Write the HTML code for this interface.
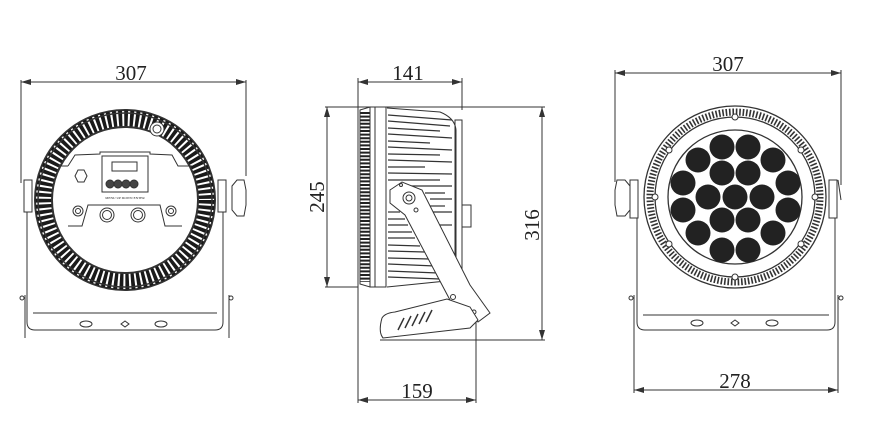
<!DOCTYPE html>
<html><head><meta charset="utf-8"><style>
html,body{margin:0;padding:0;background:#fff;}
svg{display:block}
text{font-family:"Liberation Serif",serif;fill:#222}
</style></head><body>
<svg width="881" height="442" viewBox="0 0 881 442" xmlns="http://www.w3.org/2000/svg">
<defs>
<marker id="a" viewBox="0 0 10 6" refX="10" refY="3" markerWidth="10" markerHeight="6" orient="auto-start-reverse"><path d="M0,0 L10,3 L0,6" fill="#333"/></marker>
</defs>
<g stroke="#333" fill="none" stroke-width="1">
<!-- ===== LEFT VIEW ===== -->
<line x1="21" y1="82" x2="246" y2="82" marker-start="url(#a)" marker-end="url(#a)"/>
<line x1="21" y1="80" x2="21" y2="183"/>
<line x1="246" y1="80" x2="246" y2="176"/>
<circle cx="125" cy="200" r="90" stroke-width="2"/>
<circle cx="125" cy="200" r="81" stroke="#1a1a1a" stroke-width="17" stroke-dasharray="3.6 2"/>
<circle cx="125" cy="200" r="73" stroke-width="2"/>
<circle cx="125" cy="200" r="87" stroke-width="1.5"/>
<circle cx="157" cy="129" r="7" fill="#fff"/><circle cx="157" cy="129" r="4"/>
<!-- panel -->
<path d="M68,166 L75,155 L100,154 L100,152 L150,152 L150,154 L172,155 L178,166 L192,166" />
<path d="M58,166 L68,166"/>
<path d="M68,226 L82,226 L88,205 L160,205 L165,226 L182,226"/>
<rect x="102" y="156" width="46" height="36"/>
<rect x="112" y="162" width="25" height="9"/>
<circle cx="110" cy="184" r="4" fill="#444"/><circle cx="118" cy="184" r="4" fill="#444"/><circle cx="126" cy="184" r="4" fill="#444"/><circle cx="134" cy="184" r="4" fill="#444"/>
<polygon points="75,176 78,170 84,170 87,176 84,182 78,182"/>
<circle cx="78" cy="211" r="5"/><circle cx="78" cy="211" r="2.5"/>
<circle cx="171" cy="211" r="5"/><circle cx="171" cy="211" r="2.5"/>
<circle cx="107" cy="215" r="7"/><circle cx="107" cy="215" r="4.5"/>
<circle cx="138" cy="215" r="7"/><circle cx="138" cy="215" r="4.5"/>
<!-- bracket -->
<rect x="24" y="180" width="8" height="32"/>
<rect x="218" y="180" width="8" height="32"/>
<path d="M27,212 L27,322 Q27,330 35,330 L215,330 Q223,330 223,322 L223,212"/>
<path d="M33,313 L217,313"/>
<line x1="25" y1="295" x2="25" y2="338"/><line x1="229" y1="295" x2="229" y2="338"/>
<circle cx="22" cy="298" r="2"/><circle cx="231" cy="298" r="2"/>
<ellipse cx="86" cy="324" rx="6" ry="3"/><ellipse cx="161" cy="324" rx="6" ry="3"/>
<path d="M121,324 L125,321 L129,324 L125,327Z"/>
<path d="M232,186 L237,180 L244,180 L246,190 L246,205 L244,216 L237,216 L232,210Z" fill="#fff"/>
<!-- ===== MIDDLE VIEW ===== -->
<line x1="358" y1="82" x2="462" y2="82" marker-start="url(#a)" marker-end="url(#a)"/>
<line x1="358" y1="78" x2="358" y2="403"/>
<line x1="462" y1="78" x2="462" y2="110"/>
<line x1="325" y1="107" x2="545" y2="107"/>
<line x1="325" y1="287" x2="358" y2="287"/>
<line x1="327" y1="107" x2="327" y2="287" marker-start="url(#a)" marker-end="url(#a)"/>
<line x1="542" y1="107" x2="542" y2="340" marker-start="url(#a)" marker-end="url(#a)"/>
<line x1="380" y1="340" x2="545" y2="340"/>
<line x1="358" y1="400" x2="476" y2="400" marker-start="url(#a)" marker-end="url(#a)"/>
<line x1="476" y1="318" x2="476" y2="403"/>
<!-- front bezel -->
<path d="M360,110 L370,107 L370,287 L360,284Z" fill="#fff"/>
<line x1="365" y1="112" x2="365" y2="282" stroke="#222" stroke-width="9" stroke-dasharray="2 1.6"/>
<rect x="370" y="107" width="16" height="180"/>
<line x1="375" y1="107" x2="375" y2="287"/>
<!-- fins -->
<path d="M387,108 L440,112 Q455,118 456,130 L456,280 L387,287"/>
<g stroke-width="1.2">
<line x1="388" y1="115" x2="452" y2="120"/><line x1="388" y1="121" x2="450" y2="126"/>
<line x1="388" y1="128" x2="440" y2="131"/><line x1="388" y1="134" x2="452" y2="138"/>
<line x1="388" y1="141" x2="430" y2="143"/><line x1="388" y1="147" x2="452" y2="150"/>
<line x1="388" y1="154" x2="440" y2="155"/><line x1="388" y1="160" x2="452" y2="162"/>
<line x1="388" y1="167" x2="425" y2="167"/><line x1="388" y1="173" x2="452" y2="174"/>
<line x1="388" y1="180" x2="440" y2="180"/><line x1="410" y1="186" x2="452" y2="186"/>
<line x1="425" y1="193" x2="445" y2="193"/><line x1="430" y1="199" x2="452" y2="199"/>
<line x1="430" y1="206" x2="445" y2="206"/><line x1="430" y1="212" x2="452" y2="212"/>
<line x1="388" y1="212" x2="400" y2="212"/><line x1="388" y1="219" x2="405" y2="219"/>
<line x1="388" y1="225" x2="408" y2="225"/><line x1="440" y1="225" x2="452" y2="225"/>
<line x1="388" y1="232" x2="412" y2="232"/><line x1="388" y1="238" x2="415" y2="238"/>
<line x1="388" y1="245" x2="420" y2="246"/><line x1="388" y1="251" x2="425" y2="252"/>
<line x1="388" y1="258" x2="430" y2="259"/><line x1="388" y1="264" x2="435" y2="266"/>
<line x1="388" y1="271" x2="438" y2="273"/><line x1="388" y1="277" x2="440" y2="279"/>
</g>
<rect x="455" y="120" width="7" height="155"/>
<rect x="462" y="205" width="9" height="22"/>
<!-- arm -->
<path d="M390,190 L402,182 L422,190 L470,285 L490,313 L478,322 L450,300 L405,215 L390,203Z" fill="#fff"/>
<circle cx="409" cy="198" r="6"/><circle cx="409" cy="198" r="3"/>
<circle cx="401" cy="185" r="1.5"/><circle cx="416" cy="210" r="2"/>
<circle cx="453" cy="297" r="2.5"/><circle cx="474" cy="312" r="2"/>
<path d="M382,318 Q385,313 395,312 L447,299 L470,307 L478,320 L470,328 L383,338 Q378,332 382,318Z" fill="#fff"/>
<g stroke-width="1.5"><line x1="398" y1="330" x2="404" y2="318"/><line x1="405" y1="328" x2="411" y2="316"/><line x1="412" y1="326" x2="418" y2="314"/><line x1="419" y1="324" x2="425" y2="312"/><line x1="426" y1="322" x2="432" y2="310"/></g>
<!-- ===== RIGHT VIEW ===== -->
<line x1="615" y1="73" x2="841" y2="73" marker-start="url(#a)" marker-end="url(#a)"/>
<line x1="615" y1="70" x2="615" y2="182"/>
<line x1="841" y1="70" x2="841" y2="185"/>
<circle cx="735" cy="197" r="91" stroke-width="1.3"/>
<circle cx="735" cy="197" r="85" stroke-width="7" stroke-dasharray="1.6 1.8"/>
<circle cx="735" cy="197" r="80" stroke-width="1.3"/>
<circle cx="735" cy="197" r="67" stroke-width="1.3"/>
<g fill="#222" stroke="none">
<circle cx="722" cy="147" r="12.5"/><circle cx="748" cy="147" r="12.5"/>
<circle cx="698" cy="160" r="12.5"/><circle cx="773" cy="160" r="12.5"/>
<circle cx="722" cy="173" r="12.5"/><circle cx="748" cy="173" r="12.5"/>
<circle cx="683" cy="183" r="12.5"/><circle cx="788" cy="183" r="12.5"/>
<circle cx="708" cy="197" r="12.5"/><circle cx="735" cy="197" r="12.5"/><circle cx="762" cy="197" r="12.5"/>
<circle cx="683" cy="210" r="12.5"/><circle cx="788" cy="210" r="12.5"/>
<circle cx="722" cy="220" r="12.5"/><circle cx="748" cy="220" r="12.5"/>
<circle cx="698" cy="233" r="12.5"/><circle cx="773" cy="233" r="12.5"/>
<circle cx="722" cy="250" r="12.5"/><circle cx="748" cy="250" r="12.5"/>
</g>
<g fill="#fff"><circle cx="735" cy="117" r="3"/><circle cx="735" cy="277" r="3"/><circle cx="655" cy="197" r="3"/><circle cx="815" cy="197" r="3"/>
<circle cx="669" cy="150" r="3"/><circle cx="801" cy="150" r="3"/><circle cx="669" cy="244" r="3"/><circle cx="801" cy="244" r="3"/></g>
<rect x="630" y="180" width="8" height="38"/>
<rect x="829" y="180" width="8" height="38"/>
<path d="M637,218 L637,322 Q637,330 645,330 L827,330 Q835,330 835,322 L835,218"/>
<path d="M643,315 L829,315"/>
<line x1="634" y1="295" x2="634" y2="338"/><line x1="838" y1="295" x2="838" y2="338"/>
<circle cx="631" cy="298" r="2"/><circle cx="841" cy="298" r="2"/>
<ellipse cx="697" cy="323" rx="6" ry="3"/><ellipse cx="772" cy="323" rx="6" ry="3"/>
<path d="M731,323 L735,320 L739,323 L735,326Z"/>
<path d="M630,186 L625,180 L617,180 L615,190 L615,205 L617,216 L625,216 L630,210Z" fill="#fff"/>
<line x1="838" y1="180" x2="841" y2="200"/>
<line x1="634" y1="390" x2="838" y2="390" marker-start="url(#a)" marker-end="url(#a)"/>
<line x1="634" y1="338" x2="634" y2="393"/><line x1="838" y1="338" x2="838" y2="393"/>
</g>
<g font-size="21">
<text x="131" y="80" text-anchor="middle">307</text>
<text x="408" y="80" text-anchor="middle">141</text>
<text x="417" y="398" text-anchor="middle">159</text>
<text x="728" y="71" text-anchor="middle">307</text>
<text x="735" y="388" text-anchor="middle">278</text>
<text transform="translate(324,197) rotate(-90)" text-anchor="middle">245</text>
<text transform="translate(539,225) rotate(-90)" text-anchor="middle">316</text>
</g>
<text x="125" y="199" font-size="3.5" text-anchor="middle" font-family="Liberation Sans, sans-serif">MENU UP DOWN ENTER</text>
</svg>
</body></html>
